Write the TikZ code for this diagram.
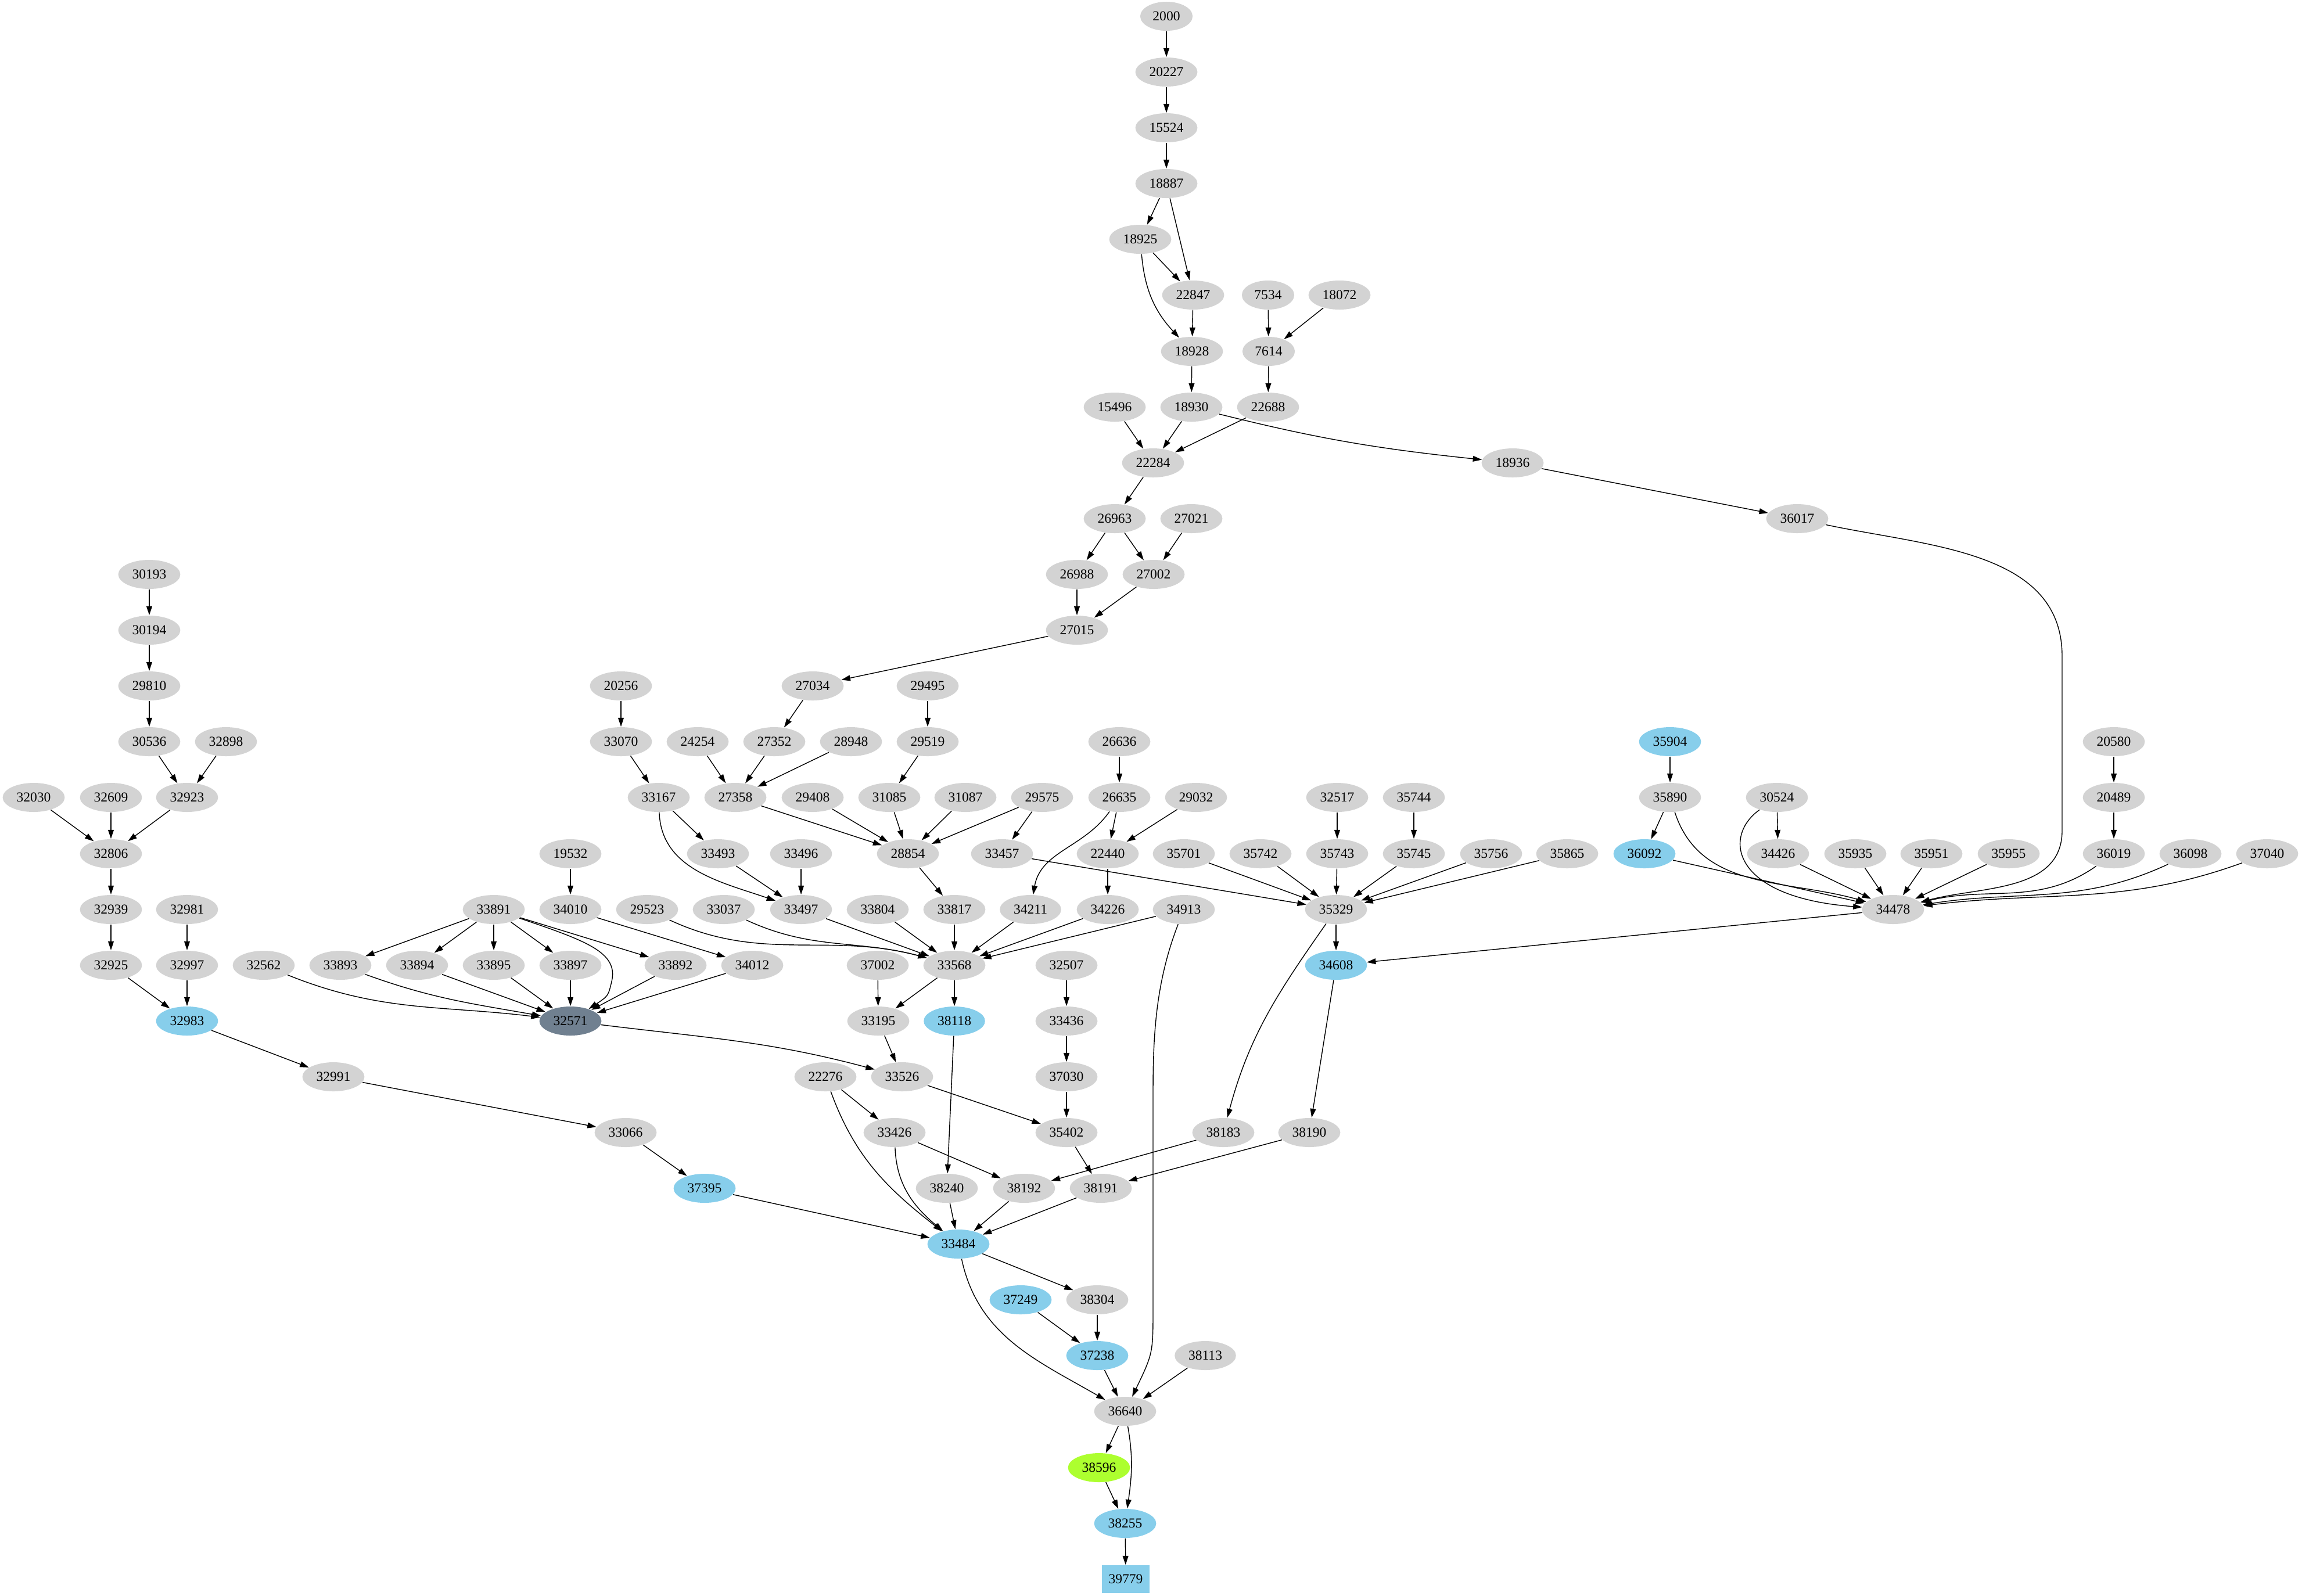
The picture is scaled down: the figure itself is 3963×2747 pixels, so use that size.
\documentclass[tikz,border=0pt]{standalone}
\usepackage{fontspec}
\setmainfont{Liberation Serif}
\usepackage{tikz}
\usetikzlibrary{shapes.geometric, arrows.meta, positioning}
\definecolor{nodegray}{RGB}{211,211,211}
\definecolor{skyblue}{RGB}{135,206,235}
\definecolor{slategray}{RGB}{112,128,144}
\definecolor{greenyellow}{RGB}{173,255,47}

\begin{document}
\begin{tikzpicture}[x=0.01cm, y=-0.01cm,
    gnode/.style={ellipse, fill=nodegray, inner xsep=0.083cm, inner ysep=0pt, minimum height=0.5cm, font=\fontsize{6.7}{8}\selectfont},
    bnode/.style={gnode, fill=skyblue},
    link/.style={-{Triangle[length=4.4pt, width=2.8pt]}, line width=0.4pt}]
    \useasboundingbox (0,0) rectangle (3963,2747);

    % Top chain
    \node[gnode] at (2008,28) (n2000) {2000};
    \node[gnode] at (2008,124) (n20227) {20227};
    \node[gnode] at (2008,220) (n15524) {15524};
    \node[gnode] at (2008,316) (n18887) {18887};
    \node[gnode] at (1963,412) (n18925) {18925};
    \node[gnode] at (2054,508) (n22847) {22847};
    \node[gnode] at (2183,508) (n7534) {7534};
    \node[gnode] at (2306,508) (n18072) {18072};
    \node[gnode] at (2052,605) (n18928) {18928};
    \node[gnode] at (2184,605) (n7614) {7614};
    \node[gnode] at (1919,701) (n15496) {15496};
    \node[gnode] at (2051,701) (n18930) {18930};
    \node[gnode] at (2183,701) (n22688) {22688};
    \node[gnode] at (1985,797) (n22284) {22284};
    \node[gnode] at (2604,797) (n18936) {18936};
    \node[gnode] at (1919,893) (n26963) {26963};
    \node[gnode] at (2051,893) (n27021) {27021};
    \node[gnode] at (3094,893) (n36017) {36017};
    \node[gnode] at (1854,989) (n26988) {26988};
    \node[gnode] at (1986,989) (n27002) {27002};
    \node[gnode] at (1854,1085) (n27015) {27015};

    % Left column
    \node[gnode] at (257,989) (n30193) {30193};
    \node[gnode] at (257,1085) (n30194) {30194};
    \node[gnode] at (257,1181) (n29810) {29810};
    \node[gnode] at (257,1277) (n30536) {30536};
    \node[gnode] at (389,1277) (n32898) {32898};
    \node[gnode] at (58,1373) (n32030) {32030};
    \node[gnode] at (191,1373) (n32609) {32609};
    \node[gnode] at (322,1373) (n32923) {32923};
    \node[gnode] at (191,1470) (n32806) {32806};
    \node[gnode] at (191,1566) (n32939) {32939};
    \node[gnode] at (322,1566) (n32981) {32981};
    \node[gnode] at (191,1662) (n32925) {32925};
    \node[gnode] at (322,1662) (n32997) {32997};
    \node[bnode] at (322,1758) (n32983) {32983};
    \node[gnode] at (574,1854) (n32991) {32991};
    \node[gnode] at (1077,1950) (n33066) {33066};
    \node[bnode] at (1213,2046) (n37395) {37395};

    % Middle rows
    \node[gnode] at (1069,1181) (n20256) {20256};
    \node[gnode] at (1399,1181) (n27034) {27034};
    \node[gnode] at (1597,1181) (n29495) {29495};
    \node[gnode] at (1069,1277) (n33070) {33070};
    \node[gnode] at (1201,1277) (n24254) {24254};
    \node[gnode] at (1333,1277) (n27352) {27352};
    \node[gnode] at (1465,1277) (n28948) {28948};
    \node[gnode] at (1597,1277) (n29519) {29519};
    \node[gnode] at (1927,1277) (n26636) {26636};
    \node[gnode] at (1134,1373) (n33167) {33167};
    \node[gnode] at (1266,1373) (n27358) {27358};
    \node[gnode] at (1399,1373) (n29408) {29408};
    \node[gnode] at (1531,1373) (n31085) {31085};
    \node[gnode] at (1662,1373) (n31087) {31087};
    \node[gnode] at (1794,1373) (n29575) {29575};
    \node[gnode] at (1927,1373) (n26635) {26635};
    \node[gnode] at (2059,1373) (n29032) {29032};
    \node[gnode] at (982,1470) (n19532) {19532};
    \node[gnode] at (1236,1470) (n33493) {33493};
    \node[gnode] at (1379,1470) (n33496) {33496};
    \node[gnode] at (1563,1470) (n28854) {28854};
    \node[gnode] at (1725,1470) (n33457) {33457};
    \node[gnode] at (1907,1470) (n22440) {22440};
    \node[gnode] at (2038,1470) (n35701) {35701};
    \node[gnode] at (2170,1470) (n35742) {35742};
    \node[gnode] at (850,1566) (n33891) {33891};
    \node[gnode] at (982,1566) (n34010) {34010};
    \node[gnode] at (1114,1566) (n29523) {29523};
    \node[gnode] at (1246,1566) (n33037) {33037};
    \node[gnode] at (1379,1566) (n33497) {33497};
    \node[gnode] at (1511,1566) (n33804) {33804};
    \node[gnode] at (1643,1566) (n33817) {33817};
    \node[gnode] at (1774,1566) (n34211) {34211};
    \node[gnode] at (1907,1566) (n34226) {34226};
    \node[gnode] at (2038,1566) (n34913) {34913};
    \node[gnode] at (454,1662) (n32562) {32562};
    \node[gnode] at (586,1662) (n33893) {33893};
    \node[gnode] at (718,1662) (n33894) {33894};
    \node[gnode] at (850,1662) (n33895) {33895};
    \node[gnode] at (982,1662) (n33897) {33897};
    \node[gnode] at (1163,1662) (n33892) {33892};
    \node[gnode] at (1295,1662) (n34012) {34012};
    \node[gnode] at (1511,1662) (n37002) {37002};
    \node[gnode] at (1643,1662) (n33568) {33568};
    \node[gnode] at (1836,1662) (n32507) {32507};
    \node[gnode, fill=slategray] at (982,1758) (n32571) {32571};
    \node[gnode] at (1512,1758) (n33195) {33195};
    \node[bnode] at (1643,1758) (n38118) {38118};
    \node[gnode] at (1836,1758) (n33436) {33436};
    \node[gnode] at (1421,1854) (n22276) {22276};
    \node[gnode] at (1553,1854) (n33526) {33526};
    \node[gnode] at (1836,1854) (n37030) {37030};
    \node[gnode] at (1540,1950) (n33426) {33426};
    \node[gnode] at (1836,1950) (n35402) {35402};
    \node[gnode] at (2106,1950) (n38183) {38183};
    \node[gnode] at (2254,1950) (n38190) {38190};
    \node[gnode] at (1630,2046) (n38240) {38240};
    \node[gnode] at (1763,2046) (n38192) {38192};
    \node[gnode] at (1895,2046) (n38191) {38191};

    % Bottom
    \node[bnode] at (1650,2142) (n33484) {33484};
    \node[bnode] at (1757,2238) (n37249) {37249};
    \node[gnode] at (1889,2238) (n38304) {38304};
    \node[bnode] at (1889,2334) (n37238) {37238};
    \node[gnode] at (2075,2334) (n38113) {38113};
    \node[gnode] at (1937,2430) (n36640) {36640};
    \node[gnode, fill=greenyellow] at (1892,2527) (n38596) {38596};
    \node[bnode] at (1937,2623) (n38255) {38255};
    \node[rectangle, fill=skyblue, minimum width=0.82cm, minimum height=0.48cm, inner sep=0pt, font=\fontsize{6.7}{8}\selectfont] at (1938,2719) (n39779) {39779};

    % Right side
    \node[bnode] at (2875,1277) (n35904) {35904};
    \node[gnode] at (3639,1277) (n20580) {20580};
    \node[gnode] at (2302,1373) (n32517) {32517};
    \node[gnode] at (2434,1373) (n35744) {35744};
    \node[gnode] at (2875,1373) (n35890) {35890};
    \node[gnode] at (3059,1373) (n30524) {30524};
    \node[gnode] at (3639,1373) (n20489) {20489};
    \node[gnode] at (2302,1470) (n35743) {35743};
    \node[gnode] at (2434,1470) (n35745) {35745};
    \node[gnode] at (2567,1470) (n35756) {35756};
    \node[gnode] at (2698,1470) (n35865) {35865};
    \node[bnode] at (2831,1470) (n36092) {36092};
    \node[gnode] at (3061,1470) (n34426) {34426};
    \node[gnode] at (3194,1470) (n35935) {35935};
    \node[gnode] at (3325,1470) (n35951) {35951};
    \node[gnode] at (3458,1470) (n35955) {35955};
    \node[gnode] at (3639,1470) (n36019) {36019};
    \node[gnode] at (3771,1470) (n36098) {36098};
    \node[gnode] at (3903,1470) (n37040) {37040};
    \node[gnode] at (2300,1566) (n35329) {35329};
    \node[gnode] at (3259,1566) (n34478) {34478};
    \node[bnode] at (2300,1662) (n34608) {34608};

    % Edges: top chain
    \draw[link] (n2000) -- (n20227);
    \draw[link] (n20227) -- (n15524);
    \draw[link] (n15524) -- (n18887);
    \draw[link] (n18887) -- (n18925);
    \draw[link] (n18887) -- (n22847);
    \draw[link] (n18925) -- (n22847);
    \draw[link] (n18925) to[out=-85, in=133] (n18928);
    \draw[link] (n22847) -- (n18928);
    \draw[link] (n7534) -- (n7614);
    \draw[link] (n18072) -- (n7614);
    \draw[link] (n18928) -- (n18930);
    \draw[link] (n7614) -- (n22688);
    \draw[link] (n15496) -- (n22284);
    \draw[link] (n18930) -- (n22284);
    \draw[link] (n22688) -- (n22284);
    \draw[link] (n18930) to[out=-14, in=174] (n18936);
    \draw[link] (n18936) -- (n36017);
    \draw[link] (n36017) to[out=-12, in=90] (3550,1130) -- (3550,1430) to[out=-90, in=15] (n34478);
    \draw[link] (n22284) -- (n26963);
    \draw[link] (n26963) -- (n26988);
    \draw[link] (n26963) -- (n27002);
    \draw[link] (n27021) -- (n27002);
    \draw[link] (n26988) -- (n27015);
    \draw[link] (n27002) -- (n27015);
    \draw[link] (n27015) -- (n27034);

    % Edges: left column
    \draw[link] (n30193) -- (n30194);
    \draw[link] (n30194) -- (n29810);
    \draw[link] (n29810) -- (n30536);
    \draw[link] (n30536) -- (n32923);
    \draw[link] (n32898) -- (n32923);
    \draw[link] (n32030) -- (n32806);
    \draw[link] (n32609) -- (n32806);
    \draw[link] (n32923) -- (n32806);
    \draw[link] (n32806) -- (n32939);
    \draw[link] (n32939) -- (n32925);
    \draw[link] (n32981) -- (n32997);
    \draw[link] (n32925) -- (n32983);
    \draw[link] (n32997) -- (n32983);
    \draw[link] (n32983) -- (n32991);
    \draw[link] (n32991) -- (n33066);
    \draw[link] (n33066) -- (n37395);
    \draw[link] (n37395) -- (n33484);

    % Edges: middle
    \draw[link] (n20256) -- (n33070);
    \draw[link] (n33070) -- (n33167);
    \draw[link] (n27034) -- (n27352);
    \draw[link] (n24254) -- (n27358);
    \draw[link] (n27352) -- (n27358);
    \draw[link] (n28948) -- (n27358);
    \draw[link] (n29495) -- (n29519);
    \draw[link] (n29519) -- (n31085);
    \draw[link] (n33167) -- (n33493);
    \draw[link] (n33167) to[out=-88, in=161] (n33497);
    \draw[link] (n27358) -- (n28854);
    \draw[link] (n29408) -- (n28854);
    \draw[link] (n31085) -- (n28854);
    \draw[link] (n31087) -- (n28854);
    \draw[link] (n29575) -- (n28854);
    \draw[link] (n29575) -- (n33457);
    \draw[link] (n26636) -- (n26635);
    \draw[link] (n26635) -- (n22440);
    \draw[link] (n29032) -- (n22440);
    \draw[link] (n26635) to[out=-125, in=80] (n34211);
    \draw[link] (n33493) -- (n33497);
    \draw[link] (n33496) -- (n33497);
    \draw[link] (n28854) -- (n33817);
    \draw[link] (n33457) -- (n35329);
    \draw[link] (n22440) -- (n34226);
    \draw[link] (n19532) -- (n34010);
    \draw[link] (n34010) -- (n34012);
    \draw[link] (n33891) -- (n33893);
    \draw[link] (n33891) -- (n33894);
    \draw[link] (n33891) -- (n33895);
    \draw[link] (n33891) -- (n33897);
    \draw[link] (n33891) -- (n33892);
    \draw[link] (n33891) .. controls (1010,1620) and (1065,1640) .. (1053,1690) .. controls (1047,1715) .. (n32571);
    \draw[link] (n32562) to[out=-22, in=173] (n32571);
    \draw[link] (n33893) to[out=-20, in=170] (n32571);
    \draw[link] (n33894) -- (n32571);
    \draw[link] (n33895) -- (n32571);
    \draw[link] (n33897) -- (n32571);
    \draw[link] (n33892) -- (n32571);
    \draw[link] (n34012) -- (n32571);
    \draw[link] (n29523) to[out=-25, in=165] (n33568);
    \draw[link] (n33037) to[out=-25, in=165] (n33568);
    \draw[link] (n33497) -- (n33568);
    \draw[link] (n33804) -- (n33568);
    \draw[link] (n33817) -- (n33568);
    \draw[link] (n34211) -- (n33568);
    \draw[link] (n34226) -- (n33568);
    \draw[link] (n34913) -- (n33568);
    \draw[link] (n34913) .. controls (1990,1690) and (1985,1780) .. (1985,1880) -- (1985,2250) .. controls (1985,2330) .. (n36640);
    \draw[link] (n32571) to[out=-7, in=165] (n33526);
    \draw[link] (n33568) -- (n33195);
    \draw[link] (n33568) -- (n38118);
    \draw[link] (n37002) -- (n33195);
    \draw[link] (n33195) -- (n33526);
    \draw[link] (n38118) -- (n38240);
    \draw[link] (n32507) -- (n33436);
    \draw[link] (n33436) -- (n37030);
    \draw[link] (n37030) -- (n35402);
    \draw[link] (n33526) -- (n35402);
    \draw[link] (n22276) -- (n33426);
    \draw[link] (n22276) to[out=-70, in=142] (n33484);
    \draw[link] (n33426) to[out=-88, in=140] (n33484);
    \draw[link] (n33426) -- (n38192);
    \draw[link] (n38183) -- (n38192);
    \draw[link] (n35402) -- (n38191);
    \draw[link] (n38190) -- (n38191);
    \draw[link] (n38240) -- (n33484);
    \draw[link] (n38192) -- (n33484);
    \draw[link] (n38191) -- (n33484);

    % Edges: bottom
    \draw[link] (n33484) -- (n38304);
    \draw[link] (n33484) to[out=-78, in=150] (n36640);
    \draw[link] (n37249) -- (n37238);
    \draw[link] (n38304) -- (n37238);
    \draw[link] (n37238) -- (n36640);
    \draw[link] (n38113) -- (n36640);
    \draw[link] (n36640) -- (n38596);
    \draw[link] (n36640) to[out=-80, in=82] (n38255);
    \draw[link] (n38596) -- (n38255);
    \draw[link] (n38255) -- (n39779);

    % Edges: right side
    \draw[link] (n32517) -- (n35743);
    \draw[link] (n35744) -- (n35745);
    \draw[link] (n35701) -- (n35329);
    \draw[link] (n35742) -- (n35329);
    \draw[link] (n35743) -- (n35329);
    \draw[link] (n35745) -- (n35329);
    \draw[link] (n35756) -- (n35329);
    \draw[link] (n35865) -- (n35329);
    \draw[link] (n35329) -- (n34608);
    \draw[link] (n35329) to[out=-125, in=75] (n38183);
    \draw[link] (n34608) -- (n38190);
    \draw[link] (n35904) -- (n35890);
    \draw[link] (n35890) -- (n36092);
    \draw[link] (n35890) to[out=-72, in=164] (n34478);
    \draw[link] (n30524) .. controls (2965,1440) and (2980,1545) .. (n34478);
    \draw[link] (n30524) -- (n34426);
    \draw[link] (n36092) -- (n34478);
    \draw[link] (n34426) -- (n34478);
    \draw[link] (n35935) -- (n34478);
    \draw[link] (n35951) -- (n34478);
    \draw[link] (n35955) -- (n34478);
    \draw[link] (n20580) -- (n20489);
    \draw[link] (n20489) -- (n36019);
    \draw[link] (n36019) to[out=-145, in=14] (n34478);
    \draw[link] (n36098) to[out=-155, in=9] (n34478);
    \draw[link] (n37040) to[out=-160, in=7] (n34478);
    \draw[link] (n34478) -- (n34608);
\end{tikzpicture}
\end{document}
